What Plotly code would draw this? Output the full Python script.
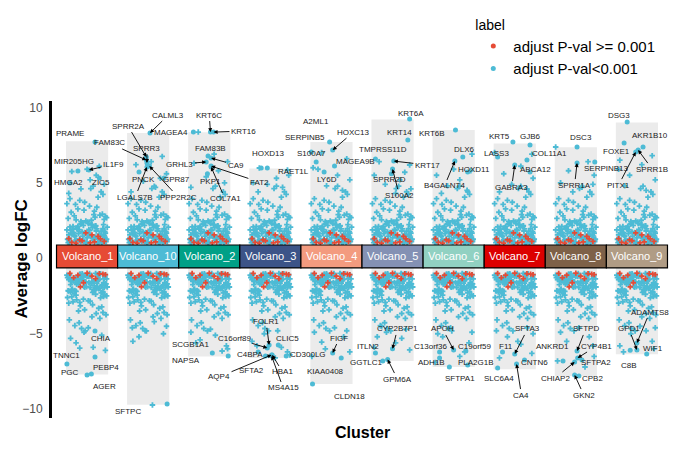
import plotly.graph_objects as go

# ---------------- data ----------------
clusters = ["Volcano_1", "Volcano_10", "Volcano_2", "Volcano_3", "Volcano_4",
            "Volcano_5", "Volcano_6", "Volcano_7", "Volcano_8", "Volcano_9"]
tile_colors = ["#E64B35", "#4DBBD5", "#00A087", "#3C5488", "#F39B7F",
               "#8491B4", "#91D1C2", "#DC0000", "#7E6148", "#B09C85"]
bar_top = [7.75, 8.30, 8.35, 5.95, 7.70, 9.20, 8.50, 7.60, 7.35, 9.00]
bar_bottom = [-7.70, -9.70, -6.50, -6.60, -8.33, -6.80, -7.20, -7.35, -7.80, -6.35]

# dense cloud of genes near the tiles (shared shape across clusters)
cloud_up_dx = [-0.31, 0.12, -0.05, 0.27, -0.18, 0.04, 0.21, -0.26, 0.09, -0.12,
               0.30, -0.02, 0.16, -0.29, 0.07, -0.21, 0.25, -0.08, 0.13, -0.33,
               0.19, -0.15, 0.02, 0.32, -0.24, 0.10, -0.10, 0.28, -0.04, 0.17,
               -0.28, 0.06, -0.19, 0.23, -0.07, 0.14, -0.30, 0.26, 0.00, -0.14,
               0.31, -0.22, 0.08, -0.01, 0.20, -0.27, 0.11, -0.16, 0.29, -0.09,
               0.03, -0.32, 0.18, -0.06, 0.24, -0.20, 0.15, -0.11, 0.33, -0.25,
               0.05, -0.17, 0.22, -0.03, 0.27, -0.29, 0.09, -0.13, 0.19, -0.23,
               0.01, 0.30, -0.18, 0.12, -0.08, 0.25, -0.31, 0.16, -0.02, 0.21,
               -0.26, 0.07, -0.15, 0.32, -0.10, 0.04, -0.21, 0.28, -0.05, 0.13,
               -0.33, 0.18, -0.12, 0.23, -0.04, 0.10, -0.28, 0.26, -0.19, 0.06,
               0.29, -0.24, 0.14, -0.07, 0.31, -0.16, 0.02, 0.20, -0.30, 0.11]
cloud_up_y = [1.04, 1.37, 1.12, 1.58, 1.21, 1.83, 1.46, 1.09, 2.03, 1.29,
              1.67, 1.01, 1.95, 1.33, 2.21, 1.52, 1.15, 1.74, 1.41, 1.88,
              1.06, 2.12, 1.62, 1.27, 1.93, 1.18, 2.27, 1.49, 1.71, 1.03,
              2.08, 1.44, 1.11, 1.79, 1.24, 2.16, 1.56, 1.97, 1.35, 1.64,
              1.23, 1.69, 2.25, 1.08, 1.51, 1.86, 1.31, 2.01, 1.77, 1.16,
              1.91, 1.26, 1.39, 2.18, 1.02, 1.45, 1.81, 1.13, 2.06, 1.61,
              1.54, 1.98, 1.19, 1.66, 2.23, 1.07, 1.42, 1.89, 1.28, 2.11,
              2.41, 2.78, 2.55, 3.12, 2.36, 2.93, 2.64, 3.38, 2.47, 2.86,
              3.05, 2.52, 3.27, 2.69, 2.44, 3.46, 2.81, 2.58, 3.19, 2.72,
              3.62, 4.05, 3.84, 4.41, 3.71, 4.78, 3.95, 4.23, 3.57, 4.62,
              1.35, 1.72, 2.14, 1.47, 1.11, 1.93, 2.31, 1.59, 1.24, 2.89]
cloud_dn_dx = [0.22, -0.30, 0.06, -0.14, 0.29, -0.04, 0.17, -0.23, 0.11, -0.09,
               -0.27, 0.14, -0.01, 0.32, -0.18, 0.08, -0.33, 0.25, -0.06, 0.19,
               0.03, -0.20, 0.27, -0.11, 0.15, -0.28, 0.09, -0.16, 0.31, -0.03,
               -0.25, 0.20, -0.08, 0.12, -0.32, 0.26, -0.13, 0.05, -0.21, 0.30,
               0.00, -0.17, 0.23, -0.29, 0.10, -0.05, 0.28, -0.24, 0.16, -0.12,
               0.33, -0.07, 0.18, -0.31, 0.04, -0.19, 0.24, -0.10, 0.13, -0.26,
               -0.02, 0.21, -0.15, 0.07, -0.27, 0.30, -0.09, 0.17, -0.22, 0.11,
               -0.18, 0.02, 0.27, -0.11, 0.14, -0.30, 0.22, -0.04, 0.32, -0.23,
               0.09, -0.25, 0.19, -0.06, 0.29, -0.14, 0.05, -0.32, 0.24, -0.17,
               0.15, -0.29, 0.08, -0.20, 0.31, -0.03, 0.21, -0.13, 0.26, -0.09,
               -0.16, 0.25, -0.30, 0.12, -0.07, 0.28, -0.21, 0.03, 0.18, -0.12]
cloud_dn_y = [-1.03, -1.41, -1.17, -1.66, -1.25, -1.92, -1.08, -1.50, -2.07, -1.31,
              -1.74, -1.00, -1.88, -1.36, -2.19, -1.55, -1.12, -1.79, -1.44, -2.02,
              -1.21, -2.13, -1.61, -1.06, -1.97, -1.29, -2.26, -1.47, -1.70, -1.14,
              -2.09, -1.39, -1.02, -1.83, -1.27, -2.22, -1.58, -1.94, -1.33, -1.68,
              -1.19, -1.72, -2.28, -1.10, -1.53, -1.85, -1.36, -2.04, -1.64, -1.05,
              -1.90, -1.23, -1.46, -2.15, -1.01, -1.61, -1.81, -1.16, -2.11, -1.52,
              -1.57, -1.99, -1.20, -1.69, -2.24, -1.09, -1.43, -1.86, -1.30, -2.17,
              -2.44, -2.81, -2.53, -3.15, -2.38, -2.97, -2.62, -3.41, -2.49, -2.88,
              -3.08, -2.55, -3.31, -2.71, -2.42, -3.49, -2.84, -2.60, -3.22, -2.75,
              -3.66, -4.08, -3.87, -4.46, -3.74, -4.81, -3.98, -4.27, -3.59, -4.65,
              -1.38, -1.76, -2.16, -1.49, -1.13, -1.95, -2.33, -1.62, -1.27, -2.92]

# non-significant genes (adjust P-val >= 0.001)
red_up_dx = [-0.25, -0.12, 0.05, 0.18, 0.28, -0.30, -0.02, 0.12, 0.22, -0.18, 0.08, -0.08]
red_up_y = [1.05, 1.22, 1.02, 1.45, 1.12, 1.31, 1.68, 1.08, 1.28, 1.01, 1.55, 1.15]
red_dn_dx = [-0.28, -0.15, 0.00, 0.14, 0.26, -0.06, 0.20, -0.22, 0.08, 0.30, -0.11]
red_dn_y = [-1.00, -1.12, -0.98, -1.35, -1.05, -1.62, -1.02, -1.28, -1.18, -1.08, -1.90]

# cluster specific mid-range genes
extra_up_dx = [[0.20, -0.25, 0.05, 0.28, -0.10, 0.15, -0.30, 0.00],
               [0.23, -0.20, 0.30, -0.08, 0.12, -0.28, 0.05, 0.20],
               [-0.18, 0.30, -0.25, 0.15, -0.05, 0.25, -0.30, 0.08],
               [-0.18, 0.28, 0.10, -0.28, 0.20, -0.05, 0.30, -0.20],
               [-0.16, 0.25, -0.30, 0.10, 0.30, -0.08, 0.18, -0.22],
               [0.28, -0.30, 0.12, -0.12, 0.30, -0.22, 0.05, 0.20],
               [0.30, -0.28, 0.10, -0.10, 0.22, -0.20, 0.28, 0.00],
               [-0.33, 0.28, 0.10, -0.18, 0.30, -0.05, 0.20, -0.25],
               [-0.33, 0.20, -0.12, 0.30, -0.25, 0.10, -0.05, 0.28],
               [0.25, -0.28, 0.08, -0.12, 0.30, -0.20, 0.15, -0.30]]
extra_up_y = [[6.10, 5.75, 5.20, 4.90, 4.60, 5.50, 4.30, 5.90],
              [6.75, 6.20, 5.60, 5.10, 4.70, 4.40, 6.40, 5.30],
              [8.36, 6.40, 6.30, 5.80, 5.40, 5.00, 4.70, 6.90],
              [5.98, 5.85, 5.30, 5.00, 4.70, 4.90, 5.50, 4.40],
              [7.00, 6.60, 6.00, 5.50, 5.20, 4.80, 4.50, 5.90],
              [6.18, 5.50, 5.20, 4.90, 4.60, 6.40, 4.30, 5.70],
              [6.90, 5.50, 5.20, 4.80, 4.50, 4.30, 5.80, 5.90],
              [7.00, 6.90, 6.10, 5.60, 5.30, 4.90, 4.60, 4.40],
              [7.37, 6.40, 5.80, 5.50, 5.00, 4.70, 4.40, 4.90],
              [6.80, 6.50, 6.20, 5.50, 5.20, 4.80, 4.50, 5.90]]
extra_dn_dx = [[-0.27, 0.10, -0.05, 0.24, -0.18, 0.30, 0.02, -0.12],
               [-0.26, -0.25, 0.10, 0.25, -0.05, 0.30, -0.15, 0.07],
               [0.21, -0.30, -0.15, 0.10, 0.28, -0.22, 0.02, 0.30],
               [0.08, 0.18, -0.30, -0.10, 0.28, 0.12, -0.22, 0.32],
               [-0.16, 0.20, -0.28, 0.30, 0.05, -0.10, 0.25, -0.32],
               [0.28, -0.30, 0.15, -0.10, 0.22, -0.25, 0.05, -0.18],
               [0.10, -0.30, 0.25, -0.18, 0.30, -0.05, 0.18, -0.26],
               [-0.25, 0.28, 0.10, -0.12, 0.30, -0.30, 0.20, 0.05],
               [-0.30, 0.30, 0.15, -0.15, 0.22, -0.25, 0.05, 0.28],
               [-0.28, 0.25, 0.30, -0.10, 0.15, -0.22, 0.05, 0.28]]
extra_dn_y = [[-5.30, -5.90, -4.90, -5.10, -5.60, -6.10, -4.60, -5.95],
              [-4.60, -5.50, -4.20, -5.00, -4.80, -4.50, -5.20, -9.72],
              [-6.14, -4.90, -5.40, -5.10, -5.80, -5.60, -4.70, -6.00],
              [-6.60, -5.90, -5.50, -5.00, -6.20, -4.80, -5.80, -6.40],
              [-5.55, -5.20, -4.90, -6.20, -4.60, -6.00, -4.80, -6.50],
              [-6.07, -5.90, -5.30, -4.90, -4.70, -5.20, -5.60, -4.50],
              [-6.50, -6.90, -5.60, -5.20, -4.90, -4.60, -6.20, -5.00],
              [-6.60, -6.30, -5.70, -5.20, -5.00, -4.80, -4.60, -5.50],
              [-6.80, -6.50, -7.20, -5.50, -5.20, -4.90, -4.60, -5.80],
              [-5.80, -5.50, -4.60, -5.00, -4.80, -6.20, -4.50, -6.00]]

# labelled top genes
gene_cluster = [0]*10 + [1]*9 + [2]*11 + [3]*11 + [4]*9 + [5]*10 + [6]*10 + [7]*11 + [8]*10 + [9]*9
gene_name = ["PRAME", "MIR205HG", "IL1F9", "HMGA2", "ZIC5", "CHIA", "TNNC1", "PEBP4", "PGC", "AGER",
             "CALML3", "FAM83C", "SPRR2A", "SPRR3", "PNCK", "GPR87", "LGALS7B", "PPP2R2C", "SFTPC",
             "MAGEA4", "KRT6C", "KRT16", "FAM83B", "GRHL3", "CA9", "PKP1", "COL7A1", "FAT2", "SCGB1A1", "NAPSA",
             "HOXD13", "RAET1L", "FOLR1", "C16orf89", "CLIC5", "C4BPA", "AQP4", "SFTA2", "HBA1", "MS4A15", "CD300LG",
             "A2ML1", "SERPINB5", "HOXC13", "S100A7", "MAGEA9B", "LY6D", "FIGF", "KIAA0408", "CLDN18",
             "KRT6A", "KRT14", "TMPRSS11D", "KRT17", "SPRR2D", "S100A2", "CYP2B7P1", "ITLN2", "GGTLC1", "GPM6A",
             "KRT6B", "DLX6", "HOXD11", "B4GALNT4", "APOH", "C13orf36", "C19orf59", "ADH1B", "PLA2G1B", "SFTPA1",
             "KRT5", "GJB6", "LASS3", "COL11A1", "ABCA12", "GABRA3", "SFTA3", "F11", "CNTN6", "SLC6A4", "CA4",
             "DSC3", "SERPINB13", "SPRR1A", "SFTPD", "ANKRD1", "CYP4B1", "SFTPA2", "CHIAP2", "CPB2", "GKN2",
             "DSG3", "AKR1B10", "FOXE1", "SPRR1B", "PITX1", "ADAMTS8", "GPD1", "WIF1", "C8B"]
gene_dx = [0.13, -0.15, 0.03, -0.28, 0.20, 0.13, -0.33, 0.13, 0.00, 0.07,
           0.03, -0.03, -0.03, -0.02, -0.15, 0.26, -0.02, 0.02, 0.31,
           -0.26, 0.02, 0.07, -0.02, -0.05, 0.03, -0.03, 0.03, 0.03, 0.05, 0.31,
           -0.15, -0.05, -0.02, -0.05, 0.13, -0.20, 0.02, -0.08, 0.03, 0.02, 0.26,
           -0.03, -0.33, 0.02, -0.25, 0.05, -0.12, 0.02, 0.16, -0.31,
           0.28, 0.25, -0.28, 0.02, -0.02, 0.00, 0.00, -0.28, -0.16, -0.08,
           0.03, 0.15, 0.23, 0.02, 0.00, -0.23, 0.20, -0.23, 0.23, -0.07,
           -0.03, 0.25, -0.28, 0.20, 0.25, 0.00, 0.00, -0.20, 0.16, -0.28, 0.03,
           0.02, 0.31, 0.02, 0.02, -0.21, 0.03, 0.10, -0.02, 0.05, -0.02,
           -0.16, 0.10, -0.21, 0.02, -0.02, 0.00, 0.00, 0.16, -0.11]
gene_logfc = [7.70, 5.78, 5.85, 4.99, 5.32, -4.82, -7.00, -6.54, -7.73, -7.66,
              8.30, 6.51, 6.71, 6.31, 5.72, 5.32, 6.05, 6.11, -9.66,
              8.36, 8.36, 8.36, 6.77, 6.38, 6.64, 5.60, 6.05, 6.11, -6.27, -6.47,
              5.98, 5.98, -5.74, -5.94, -5.74, -6.20, -6.40, -6.47, -6.40, -6.47, -6.47,
              7.70, 7.04, 7.17, 6.38, 6.11, 5.72, -6.27, -6.60, -8.33,
              9.23, 7.83, 6.58, 6.44, 5.60, 5.91, -6.00, -6.27, -6.80, -6.70,
              8.50, 6.71, 5.72, 6.44, -6.07, -6.20, -6.14, -6.60, -7.07, -7.20,
              7.70, 7.50, 6.71, 6.51, 5.72, 6.18, -6.34, -6.20, -6.73, -7.26, -7.00,
              7.37, 6.38, 6.31, -6.14, -6.80, -6.60, -6.73, -6.87, -7.80, -7.73,
              9.03, 7.37, 7.64, 7.17, 7.04, -5.61, -6.07, -6.34, -6.10]

# label placement (layout, in axis units)
label_x = [-0.28, -0.21, 0.43, -0.30, 0.23, 0.23, -0.33, 0.31, -0.28, 0.28,
           1.33, 0.36, 0.67, 0.98, 0.92, 1.46, 0.79, 1.49, 0.67,
           1.38, 2.00, 2.56, 2.02, 1.52, 2.43, 2.02, 2.26, 2.82, 1.70, 1.62,
           2.97, 3.38, 2.93, 2.41, 3.28, 2.66, 2.16, 2.69, 3.20, 3.21, 3.61,
           3.75, 3.57, 4.36, 3.67, 4.39, 3.92, 4.13, 3.90, 4.30,
           5.31, 5.11, 4.84, 5.57, 4.95, 5.11, 5.08, 4.59, 4.57, 5.08,
           5.64, 6.18, 6.33, 5.85, 5.82, 5.62, 6.34, 5.64, 6.36, 6.11,
           6.75, 7.26, 6.70, 7.57, 7.34, 6.95, 7.21, 6.85, 7.33, 6.74, 7.11,
           8.08, 8.51, 7.98, 8.16, 7.62, 8.34, 8.33, 7.66, 8.28, 8.13,
           8.70, 9.21, 8.66, 9.25, 8.70, 9.21, 8.87, 9.26, 8.87]
label_y = [8.30, 6.44, 6.24, 5.05, 5.05, -5.34, -6.47, -7.26, -7.59, -8.46,
           9.49, 7.64, 8.76, 7.30, 5.25, 5.25, 4.06, 4.06, -10.18,
           8.36, 9.49, 8.43, 7.30, 6.24, 6.18, 5.12, 3.93, 5.05, -5.68, -6.80,
           6.97, 5.78, -4.22, -5.28, -5.28, -6.40, -7.86, -7.46, -7.53, -8.59, -6.40,
           9.09, 7.97, 8.36, 6.97, 6.38, 5.25, -5.28, -7.53, -9.13,
           9.56, 8.36, 7.24, 6.18, 5.25, 4.19, -4.68, -5.87, -6.87, -8.00,
           8.30, 7.24, 5.85, 4.79, -4.68, -5.81, -5.81, -6.87, -6.87, -7.93,
           8.10, 8.10, 6.97, 6.97, 5.85, 4.72, -4.68, -5.81, -6.87, -7.93, -9.06,
           8.03, 5.98, 4.85, -4.68, -5.81, -5.81, -6.87, -7.93, -7.93, -9.06,
           9.49, 8.16, 7.10, 5.91, 4.85, -3.56, -4.68, -6.00, -7.13]
label_arrow = [0, 0, 1, 0, 0, 0, 0, 0, 0, 0,
               1, 1, 1, 1, 0, 0, 1, 1, 0,
               0, 1, 1, 0, 1, 1, 0, 1, 1, 0, 0,
               0, 0, 1, 1, 0, 0, 1, 0, 1, 1, 0,
               0, 0, 1, 0, 0, 0, 1, 0, 0,
               0, 0, 0, 1, 0, 1, 1, 0, 0, 1,
               0, 0, 0, 1, 1, 0, 0, 0, 0, 0,
               0, 0, 0, 0, 0, 1, 1, 0, 0, 0, 1,
               0, 0, 1, 1, 0, 1, 0, 1, 0, 1,
               0, 0, 0, 1, 1, 1, 1, 0, 0]

# ---------------- styling ----------------
BLUE = "#4DBBD5"
RED = "#E64B35"
FONT = "Liberation Sans, Arial, sans-serif"

fig = go.Figure()

# blue cloud
bx, by = [], []
for i in range(len(clusters)):
    for dx, y in zip(cloud_up_dx, cloud_up_y):
        bx.append(i + dx); by.append(y)
    for dx, y in zip(cloud_dn_dx, cloud_dn_y):
        bx.append(i + dx); by.append(y)
    for dx, y in zip(extra_up_dx[i], extra_up_y[i]):
        bx.append(i + dx); by.append(y)
    for dx, y in zip(extra_dn_dx[i], extra_dn_y[i]):
        bx.append(i + dx); by.append(y)
fig.add_trace(go.Scatter(x=bx, y=by, mode="markers", showlegend=False, hoverinfo="skip",
                         marker=dict(symbol="cross", size=4.6, color=BLUE)))

# labelled genes as larger dots
gx = [c + d for c, d in zip(gene_cluster, gene_dx)]
fig.add_trace(go.Scatter(x=gx, y=gene_logfc, mode="markers", showlegend=False,
                         text=gene_name, hoverinfo="text",
                         marker=dict(symbol="circle", size=5, color=BLUE)))

# red (non-significant)
rx, ry = [], []
for i in range(len(clusters)):
    for dx, y in zip(red_up_dx, red_up_y):
        rx.append(i + dx); ry.append(y)
    for dx, y in zip(red_dn_dx, red_dn_y):
        rx.append(i + dx); ry.append(y)
fig.add_trace(go.Scatter(x=rx, y=ry, mode="markers", showlegend=False, hoverinfo="skip",
                         marker=dict(symbol="cross", size=4.4, color=RED)))

# legend entries
fig.add_trace(go.Scatter(x=[None], y=[None], mode="markers", name="adjust P-val >= 0.001",
                         marker=dict(symbol="circle", size=5, color=RED)))
fig.add_trace(go.Scatter(x=[None], y=[None], mode="markers", name="adjust P-val<0.001",
                         marker=dict(symbol="circle", size=5, color=BLUE)))

shapes = []
annotations = []
for i, name in enumerate(clusters):
    shapes.append(dict(type="rect", xref="x", yref="y", x0=i - 0.345, x1=i + 0.345,
                       y0=bar_bottom[i], y1=bar_top[i], fillcolor="#EBEBEB",
                       line=dict(width=0), layer="below"))
    shapes.append(dict(type="rect", xref="x", yref="y", x0=i - 0.5, x1=i + 0.5,
                       y0=-0.64, y1=0.88, fillcolor=tile_colors[i],
                       line=dict(color="black", width=1.2), layer="above"))
    annotations.append(dict(x=i, y=0.12, xref="x", yref="y", text=name, showarrow=False,
                            font=dict(family=FONT, size=11, color="white")))

for c, nm, dx, y, tx, ty, ar in zip(gene_cluster, gene_name, gene_dx, gene_logfc,
                                     label_x, label_y, label_arrow):
    if ar:
        annotations.append(dict(x=c + dx, y=y, xref="x", yref="y", ax=tx, ay=ty,
                                axref="x", ayref="y", text=nm, showarrow=True,
                                arrowhead=2, arrowsize=0.9, arrowwidth=0.9,
                                arrowcolor="black", standoff=0, startstandoff=0,
                                font=dict(family=FONT, size=8, color="#222222")))
    else:
        annotations.append(dict(x=tx, y=ty, xref="x", yref="y", text=nm, showarrow=False,
                                font=dict(family=FONT, size=8, color="#222222")))

annotations.append(dict(x=0.5, y=-0.047, xref="paper", yref="paper", text="Cluster",
                        showarrow=False, yanchor="middle",
                        font=dict(family=FONT, size=16, color="black", weight="bold")))
annotations.append(dict(x=-0.05, y=0.5, xref="paper", yref="paper", text="Average logFC",
                        showarrow=False, textangle=-90, xanchor="center", yanchor="middle",
                        font=dict(family=FONT, size=17, color="black", weight="bold")))

fig.update_layout(
    width=681, height=450,
    margin=dict(l=52, r=9, t=101, b=32, autoexpand=False),
    paper_bgcolor="white", plot_bgcolor="white",
    font=dict(family=FONT, color="black"),
    shapes=shapes, annotations=annotations,
    legend=dict(title=dict(text="label", font=dict(family=FONT, size=14, color="black")),
                font=dict(family=FONT, size=15, color="black"),
                x=0.6795, y=1.282, xanchor="left", yanchor="top",
                itemwidth=30, tracegroupgap=0,
                bgcolor="rgba(0,0,0,0)"),
    xaxis=dict(range=[-0.574, 9.574], showgrid=False, zeroline=False, showline=False,
               showticklabels=False, ticks=""),
    yaxis=dict(range=[-10.58, 10.42], showgrid=False, zeroline=False, showline=True,
               linecolor="black", linewidth=3, ticks="", tickvals=[-10, -5, 0, 5, 10],
               ticklabelstandoff=4,
               tickfont=dict(family=FONT, size=12, color="#4D4D4D")),
)

fig.write_html("out.html", config={"displayModeBar": False},
               post_script="document.body.style.margin='0';")
